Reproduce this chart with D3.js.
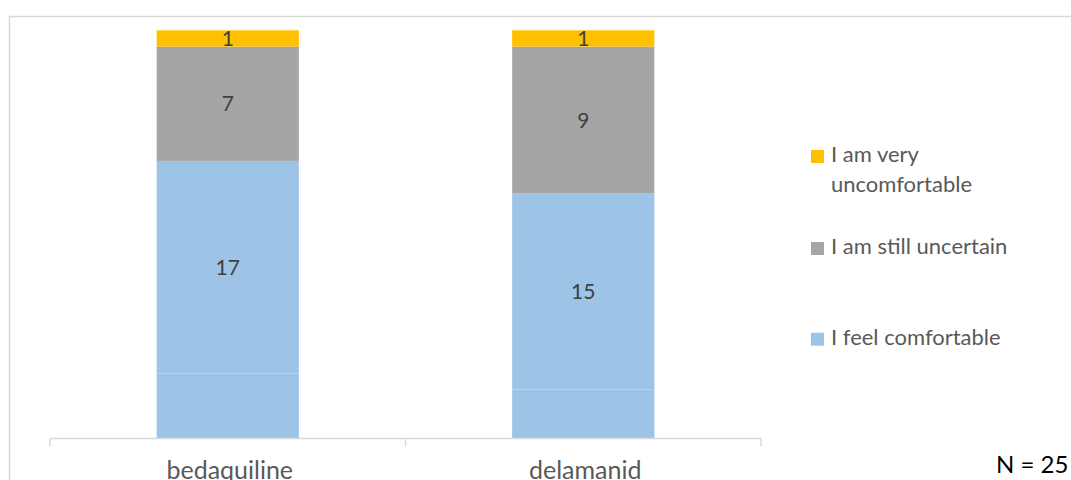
<!DOCTYPE html>
<html>
<head>
<meta charset="utf-8">
<script src="https://cdn.jsdelivr.net/npm/d3@7"></script>
<style>
  html, body { margin: 0; padding: 0; background: #ffffff; }
  svg { display: block; }
  text { font-family: Lato, "Open Sans", "Liberation Sans", sans-serif; }
</style>
</head>
<body>
<svg id="chart" width="1071" height="480"></svg>
<script>
// Drugs asked about
const categories = ["bedaquiline", "delamanid"];

// Responses per drug (N = 25)
const feelComfortable = [17, 15];
// lower sub-block inside the comfortable segment (separated by a thin line)
const comfortableLowerBlock = [4, 3];
const stillUncertain = [7, 9];
const veryUncomfortable = [1, 1];

const totalN = 25;

const legendLabels = [
  ["I am very", "uncomfortable"],
  ["I am still uncertain"],
  ["I feel comfortable"]
];

const colors = {
  comfortable: "#9dc3e6",
  uncertain: "#a5a5a5",
  uncomfortable: "#ffc000"
};

const svg = d3.select("#chart");
const W = 1071, H = 480;

svg.append("rect").attr("width", W).attr("height", H).attr("fill", "#ffffff");

// chart frame (left and top edges visible)
svg.append("path")
  .attr("d", "M9.5,480 V16.5 H1071")
  .attr("fill", "none")
  .attr("stroke", "#d9d9d9")
  .attr("stroke-width", 1.5);

const plot = { left: 50, right: 761, top: 30.3, bottom: 438.5 };

const x = d3.scaleBand()
  .domain(categories)
  .range([plot.left, plot.right])
  .paddingInner(0.6)
  .paddingOuter(0.3);

const y = d3.scaleLinear()
  .domain([0, totalN])
  .range([plot.bottom, plot.top]);

// stack: lower comfortable block, rest of comfortable, uncertain, very uncomfortable
const rows = categories.map((c, i) => ({
  cat: c,
  lower: comfortableLowerBlock[i],
  upper: feelComfortable[i] - comfortableLowerBlock[i],
  uncertain: stillUncertain[i],
  uncomfortable: veryUncomfortable[i]
}));

const keys = ["lower", "upper", "uncertain", "uncomfortable"];
const keyColor = {
  lower: colors.comfortable,
  upper: colors.comfortable,
  uncertain: colors.uncertain,
  uncomfortable: colors.uncomfortable
};
const stacked = d3.stack().keys(keys)(rows);

const gBars = svg.append("g");
stacked.forEach(layer => {
  gBars.selectAll(null)
    .data(layer)
    .join("rect")
    .attr("x", d => x(d.data.cat))
    .attr("width", x.bandwidth())
    .attr("y", d => y(d[1]))
    .attr("height", d => y(d[0]) - y(d[1]))
    .attr("fill", keyColor[layer.key]);
});

// faint divider inside the comfortable segment
gBars.selectAll(null)
  .data(rows)
  .join("line")
  .attr("x1", d => x(d.cat))
  .attr("x2", d => x(d.cat) + x.bandwidth())
  .attr("y1", d => y(d.lower))
  .attr("y2", d => y(d.lower))
  .attr("stroke", "#b7d4ef")
  .attr("stroke-width", 1);

// value labels
const labelSpecs = [
  { lo: d => d.lower, hi: d => d.lower + d.upper, val: (d, i) => feelComfortable[i] },
  { lo: d => d.lower + d.upper, hi: d => d.lower + d.upper + d.uncertain, val: (d, i) => stillUncertain[i] },
  { lo: d => d.lower + d.upper + d.uncertain, hi: d => d.lower + d.upper + d.uncertain + d.uncomfortable, val: (d, i) => veryUncomfortable[i] }
];
const labelSize = 21;
labelSpecs.forEach(spec => {
  svg.append("g").selectAll("text")
    .data(rows)
    .join("text")
    .attr("x", d => x(d.cat) + x.bandwidth() / 2)
    .attr("y", d => (y(spec.lo(d)) + y(spec.hi(d))) / 2 + labelSize * 0.36)
    .attr("text-anchor", "middle")
    .attr("font-size", labelSize)
    .attr("fill", "#404040")
    .text((d, i) => spec.val(d, i));
});

// category axis
const xAxis = d3.axisBottom(x).tickSize(0).tickFormat("");
const gx = svg.append("g").attr("transform", `translate(0,${plot.bottom})`).call(xAxis);
gx.select(".domain").attr("stroke", "#d9d9d9").attr("stroke-width", 1.5)
  .attr("d", `M${plot.left},0H${plot.right}`);
// boundary ticks between categories
const boundaries = [plot.left, (x(categories[0]) + x.bandwidth() + x(categories[1])) / 2, plot.right];
gx.selectAll(".bound")
  .data(boundaries)
  .join("line")
  .attr("class", "bound")
  .attr("x1", d => d).attr("x2", d => d)
  .attr("y1", 0).attr("y2", 8)
  .attr("stroke", "#d9d9d9").attr("stroke-width", 1.5);

svg.append("g").selectAll("text")
  .data(categories)
  .join("text")
  .attr("x", d => x(d) + x.bandwidth() / 2 + 2)
  .attr("y", 479)
  .attr("text-anchor", "middle")
  .attr("font-size", 25)
  .attr("fill", "#595959")
  .text(d => d);

// legend
const legendColors = [colors.uncomfortable, colors.uncertain, colors.comfortable];
const legendBaselines = [162.3, 254.3, 345];
const gLeg = svg.append("g");
legendLabels.forEach((lines, i) => {
  const b = legendBaselines[i];
  gLeg.append("rect")
    .attr("x", 811).attr("y", b - 12.3)
    .attr("width", 13).attr("height", 13)
    .attr("fill", legendColors[i]);
  const t = gLeg.append("text")
    .attr("x", 831).attr("y", b)
    .attr("font-size", 22)
    .attr("fill", "#595959");
  lines.forEach((ln, j) => {
    t.append("tspan").attr("x", 831).attr("y", b + j * 29.4).text(ln);
  });
});

// sample size note
svg.append("text")
  .attr("x", 996).attr("y", 473)
  .attr("font-size", 24)
  .attr("fill", "#000000")
  .text("N = " + totalN);
</script>
</body>
</html>
